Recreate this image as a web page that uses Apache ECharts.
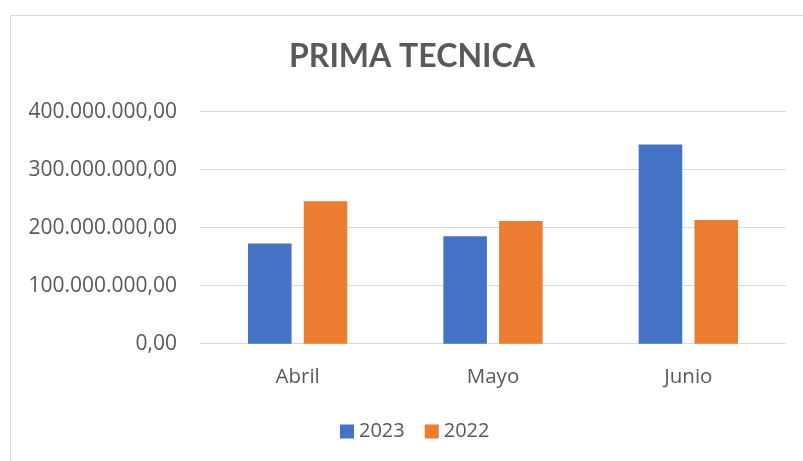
<!DOCTYPE html>
<html>
<head>
<meta charset="utf-8">
<script src="https://cdn.jsdelivr.net/npm/echarts@6/dist/echarts.min.js"></script>
<style>html,body{margin:0;padding:0;background:#fff;}#c{width:803px;height:461px;}</style>
</head>
<body>
<div id="c"></div>
<script>
var categories = ['Abril', 'Mayo', 'Junio'];
var seriesNames = ['2023', '2022'];
var values2023 = [172800000, 185300000, 343400000];
var values2022 = [245700000, 211700000, 213200000];
var yTicks = [0, 100000000, 200000000, 300000000, 400000000];

function fmt(v) {
  var s = Math.round(v).toString();
  var out = '';
  while (s.length > 3) { out = '.' + s.slice(-3) + out; s = s.slice(0, -3); }
  return s + out + ',00';
}

var chart = echarts.init(document.getElementById('c'));
var font = "'Open Sans', sans-serif";
chart.setOption({
  animation: false,
  backgroundColor: '#ffffff',
  graphic: [{
    type: 'rect', left: 8, top: 13, shape: { width: 900, height: 600 },
    style: { fill: 'none', stroke: '#d9d9d9', lineWidth: 1 }, silent: true, z: -1
  }],
  title: {
    text: 'PRIMA TECNICA', left: 284, top: 36,
    textStyle: { fontFamily: 'Lato', fontWeight: 'bold', fontSize: 32, color: '#595959' }
  },
  grid: { left: 200, right: 17, top: 111.7, bottom: 117.3, containLabel: false },
  legend: {
    data: seriesNames, left: 340, top: 421.5, padding: 0, itemWidth: 14, itemHeight: 14, itemGap: 20,
    icon: 'rect',
    textStyle: { fontFamily: font, fontSize: 20, color: '#595959' }
  },
  xAxis: {
    type: 'category', data: categories,
    axisLine: { lineStyle: { color: '#d9d9d9', width: 1 } },
    axisTick: { show: false },
    axisLabel: { fontFamily: font, fontSize: 20.5, color: '#595959', margin: 23 }
  },
  yAxis: {
    type: 'value', min: yTicks[0], max: yTicks[yTicks.length - 1], interval: yTicks[1] - yTicks[0],
    axisLine: { show: false }, axisTick: { show: false },
    splitLine: { lineStyle: { color: '#d9d9d9', width: 1 } },
    axisLabel: { fontFamily: font, fontSize: 21, color: '#595959', margin: 23, formatter: fmt }
  },
  series: [
    { name: seriesNames[0], type: 'bar', data: values2023, barWidth: '22.3%', barGap: '28%',
      itemStyle: { color: '#4472C4' } },
    { name: seriesNames[1], type: 'bar', data: values2022, barWidth: '22.3%', barGap: '28%',
      itemStyle: { color: '#ED7D31' } }
  ]
});
</script>
</body>
</html>
